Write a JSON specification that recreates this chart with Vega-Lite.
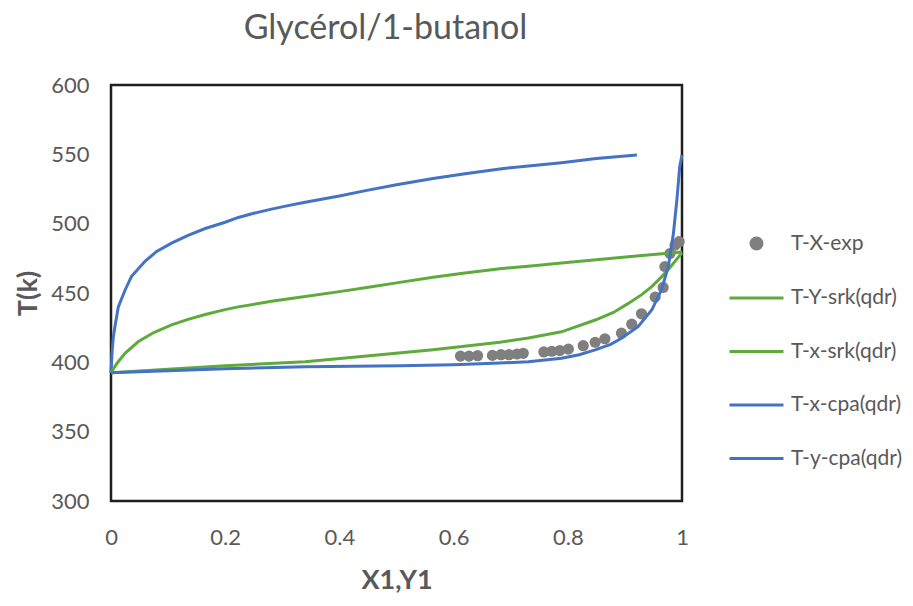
{
  "$schema": "https://vega.github.io/schema/vega-lite/v6.json",
  "width": 571,
  "height": 416,
  "autosize": {"type": "none"},
  "padding": {"left": 111, "top": 85, "right": 231, "bottom": 105},
  "background": "white",
  "title": {"text": "Glycérol/1-butanol", "font": "Lato", "fontSize": 34, "fontWeight": "normal", "color": "#595959", "anchor": "middle", "frame": "group", "baseline": "middle", "offset": 11, "dx": -11},
  "config": {
    "view": {"stroke": "#1f1f1f", "strokeWidth": 2.5},
    "axis": {"grid": false, "domain": false, "ticks": false, "tickSize": 0, "labelFont": "Lato", "labelFontSize": 22, "labelColor": "#595959", "titleFont": "Lato", "titleFontSize": 27, "titleFontWeight": "bold", "titleColor": "#595959"}
  },
  "datasets": {
    "curves": [
      {"series": "T-y-cpa(qdr)", "x": 0, "T": 392.5},
      {"series": "T-y-cpa(qdr)", "x": 0.002, "T": 408},
      {"series": "T-y-cpa(qdr)", "x": 0.004, "T": 418},
      {"series": "T-y-cpa(qdr)", "x": 0.007, "T": 426},
      {"series": "T-y-cpa(qdr)", "x": 0.0128, "T": 440},
      {"series": "T-y-cpa(qdr)", "x": 0.0245, "T": 452},
      {"series": "T-y-cpa(qdr)", "x": 0.036, "T": 462},
      {"series": "T-y-cpa(qdr)", "x": 0.06, "T": 473},
      {"series": "T-y-cpa(qdr)", "x": 0.08, "T": 480},
      {"series": "T-y-cpa(qdr)", "x": 0.106, "T": 486},
      {"series": "T-y-cpa(qdr)", "x": 0.135, "T": 491.5},
      {"series": "T-y-cpa(qdr)", "x": 0.165, "T": 496.5},
      {"series": "T-y-cpa(qdr)", "x": 0.2, "T": 501},
      {"series": "T-y-cpa(qdr)", "x": 0.223, "T": 504.5},
      {"series": "T-y-cpa(qdr)", "x": 0.25, "T": 507.5},
      {"series": "T-y-cpa(qdr)", "x": 0.281, "T": 510.5},
      {"series": "T-y-cpa(qdr)", "x": 0.31, "T": 513},
      {"series": "T-y-cpa(qdr)", "x": 0.34, "T": 515.5},
      {"series": "T-y-cpa(qdr)", "x": 0.4, "T": 520},
      {"series": "T-y-cpa(qdr)", "x": 0.448, "T": 524},
      {"series": "T-y-cpa(qdr)", "x": 0.5, "T": 528},
      {"series": "T-y-cpa(qdr)", "x": 0.564, "T": 532.5},
      {"series": "T-y-cpa(qdr)", "x": 0.62, "T": 536},
      {"series": "T-y-cpa(qdr)", "x": 0.681, "T": 539.5},
      {"series": "T-y-cpa(qdr)", "x": 0.74, "T": 542},
      {"series": "T-y-cpa(qdr)", "x": 0.789, "T": 544},
      {"series": "T-y-cpa(qdr)", "x": 0.85, "T": 547},
      {"series": "T-y-cpa(qdr)", "x": 0.921, "T": 549.5},

      {"series": "T-Y-srk(qdr)", "x": 0, "T": 392.5},
      {"series": "T-Y-srk(qdr)", "x": 0.01, "T": 399},
      {"series": "T-Y-srk(qdr)", "x": 0.0245, "T": 406.5},
      {"series": "T-Y-srk(qdr)", "x": 0.048, "T": 415},
      {"series": "T-Y-srk(qdr)", "x": 0.075, "T": 421.5},
      {"series": "T-Y-srk(qdr)", "x": 0.106, "T": 427},
      {"series": "T-Y-srk(qdr)", "x": 0.135, "T": 431},
      {"series": "T-Y-srk(qdr)", "x": 0.165, "T": 434.5},
      {"series": "T-Y-srk(qdr)", "x": 0.2, "T": 438},
      {"series": "T-Y-srk(qdr)", "x": 0.223, "T": 440},
      {"series": "T-Y-srk(qdr)", "x": 0.281, "T": 444},
      {"series": "T-Y-srk(qdr)", "x": 0.34, "T": 447.5},
      {"series": "T-Y-srk(qdr)", "x": 0.4, "T": 451},
      {"series": "T-Y-srk(qdr)", "x": 0.448, "T": 454},
      {"series": "T-Y-srk(qdr)", "x": 0.5, "T": 457.3},
      {"series": "T-Y-srk(qdr)", "x": 0.564, "T": 461.3},
      {"series": "T-Y-srk(qdr)", "x": 0.62, "T": 464.5},
      {"series": "T-Y-srk(qdr)", "x": 0.681, "T": 467.5},
      {"series": "T-Y-srk(qdr)", "x": 0.74, "T": 469.7},
      {"series": "T-Y-srk(qdr)", "x": 0.789, "T": 471.6},
      {"series": "T-Y-srk(qdr)", "x": 0.85, "T": 474},
      {"series": "T-Y-srk(qdr)", "x": 0.906, "T": 476.2},
      {"series": "T-Y-srk(qdr)", "x": 0.95, "T": 477.8},
      {"series": "T-Y-srk(qdr)", "x": 1.0, "T": 479.5},

      {"series": "T-x-srk(qdr)", "x": 0, "T": 392.5},
      {"series": "T-x-srk(qdr)", "x": 0.1, "T": 395},
      {"series": "T-x-srk(qdr)", "x": 0.2, "T": 397.5},
      {"series": "T-x-srk(qdr)", "x": 0.34, "T": 400.5},
      {"series": "T-x-srk(qdr)", "x": 0.448, "T": 404.5},
      {"series": "T-x-srk(qdr)", "x": 0.564, "T": 409},
      {"series": "T-x-srk(qdr)", "x": 0.681, "T": 414.5},
      {"series": "T-x-srk(qdr)", "x": 0.731, "T": 417.5},
      {"series": "T-x-srk(qdr)", "x": 0.789, "T": 422},
      {"series": "T-x-srk(qdr)", "x": 0.848, "T": 430.5},
      {"series": "T-x-srk(qdr)", "x": 0.88, "T": 436},
      {"series": "T-x-srk(qdr)", "x": 0.906, "T": 442.5},
      {"series": "T-x-srk(qdr)", "x": 0.93, "T": 449},
      {"series": "T-x-srk(qdr)", "x": 0.947, "T": 454.6},
      {"series": "T-x-srk(qdr)", "x": 0.965, "T": 462},
      {"series": "T-x-srk(qdr)", "x": 0.976, "T": 467},
      {"series": "T-x-srk(qdr)", "x": 0.99, "T": 474},
      {"series": "T-x-srk(qdr)", "x": 1.0, "T": 479},

      {"series": "T-x-cpa(qdr)", "x": 0, "T": 392.5},
      {"series": "T-x-cpa(qdr)", "x": 0.1, "T": 394},
      {"series": "T-x-cpa(qdr)", "x": 0.2, "T": 395.3},
      {"series": "T-x-cpa(qdr)", "x": 0.34, "T": 396.8},
      {"series": "T-x-cpa(qdr)", "x": 0.506, "T": 397.6},
      {"series": "T-x-cpa(qdr)", "x": 0.6, "T": 398.3},
      {"series": "T-x-cpa(qdr)", "x": 0.681, "T": 399.5},
      {"series": "T-x-cpa(qdr)", "x": 0.731, "T": 400.5},
      {"series": "T-x-cpa(qdr)", "x": 0.789, "T": 403},
      {"series": "T-x-cpa(qdr)", "x": 0.82, "T": 405.5},
      {"series": "T-x-cpa(qdr)", "x": 0.848, "T": 409},
      {"series": "T-x-cpa(qdr)", "x": 0.875, "T": 413},
      {"series": "T-x-cpa(qdr)", "x": 0.894, "T": 417.3},
      {"series": "T-x-cpa(qdr)", "x": 0.923, "T": 425.7},
      {"series": "T-x-cpa(qdr)", "x": 0.947, "T": 437.7},
      {"series": "T-x-cpa(qdr)", "x": 0.964, "T": 452.2},
      {"series": "T-x-cpa(qdr)", "x": 0.976, "T": 469},
      {"series": "T-x-cpa(qdr)", "x": 0.985, "T": 493},
      {"series": "T-x-cpa(qdr)", "x": 0.991, "T": 517},
      {"series": "T-x-cpa(qdr)", "x": 0.996, "T": 541},
      {"series": "T-x-cpa(qdr)", "x": 1.0, "T": 549.5}
    ],
    "exp": [
      {"series": "T-X-exp", "x": 0.612, "T": 404.5},
      {"series": "T-X-exp", "x": 0.627, "T": 404.5},
      {"series": "T-X-exp", "x": 0.642, "T": 404.8},
      {"series": "T-X-exp", "x": 0.668, "T": 405},
      {"series": "T-X-exp", "x": 0.683, "T": 405.5},
      {"series": "T-X-exp", "x": 0.697, "T": 405.5},
      {"series": "T-X-exp", "x": 0.711, "T": 406},
      {"series": "T-X-exp", "x": 0.722, "T": 406.5},
      {"series": "T-X-exp", "x": 0.758, "T": 407.5},
      {"series": "T-X-exp", "x": 0.772, "T": 408},
      {"series": "T-X-exp", "x": 0.786, "T": 408.5},
      {"series": "T-X-exp", "x": 0.801, "T": 409.5},
      {"series": "T-X-exp", "x": 0.827, "T": 412},
      {"series": "T-X-exp", "x": 0.848, "T": 414.5},
      {"series": "T-X-exp", "x": 0.865, "T": 417},
      {"series": "T-X-exp", "x": 0.894, "T": 421},
      {"series": "T-X-exp", "x": 0.912, "T": 427.5},
      {"series": "T-X-exp", "x": 0.929, "T": 435},
      {"series": "T-X-exp", "x": 0.953, "T": 447},
      {"series": "T-X-exp", "x": 0.967, "T": 454},
      {"series": "T-X-exp", "x": 0.97, "T": 469},
      {"series": "T-X-exp", "x": 0.979, "T": 478.5},
      {"series": "T-X-exp", "x": 0.988, "T": 484.5},
      {"series": "T-X-exp", "x": 0.995, "T": 487}
    ]
  },
  "encoding": {
    "x": {"field": "x", "type": "quantitative", "scale": {"domain": [0, 1], "nice": false, "zero": false},
      "axis": {"title": "X1,Y1", "values": [0, 0.2, 0.4, 0.6, 0.8, 1], "format": "~g", "labelFlush": false, "labelPadding": 36, "labelBaseline": "middle", "titleY": 79, "titleBaseline": "middle"}},
    "y": {"field": "T", "type": "quantitative", "scale": {"domain": [300, 600], "nice": false, "zero": false},
      "axis": {"title": "T(k)", "values": [300, 350, 400, 450, 500, 550, 600], "labelPadding": 22, "labelFlush": false, "titleX": -83, "titleY": 208, "titleAngle": -90, "titleBaseline": "middle", "titleAlign": "center"}},
    "color": {"field": "series", "type": "nominal",
      "scale": {"domain": ["T-X-exp", "T-Y-srk(qdr)", "T-x-srk(qdr)", "T-x-cpa(qdr)", "T-y-cpa(qdr)"], "range": ["#7F7F7F", "#5FAA3D", "#5FAA3D", "#4472C4", "#4472C4"]},
      "legend": {"orient": "none", "legendX": 617, "legendY": 130, "title": null, "labelFont": "Lato", "labelFontSize": 21, "labelColor": "#595959", "labelOffset": 6, "rowPadding": 14.5, "symbolType": "stroke", "symbolSize": 2916, "symbolStrokeWidth": 3,
        "encode": {"symbols": {"update": {
          "shape": {"signal": "datum.value === 'T-X-exp' ? 'circle' : 'stroke'"},
          "size": {"signal": "datum.value === 'T-X-exp' ? 120 : 2916"},
          "fill": {"signal": "datum.value === 'T-X-exp' ? '#7F7F7F' : 'transparent'"},
          "stroke": {"signal": "datum.value === 'T-X-exp' ? 'transparent' : (datum.value === 'T-x-cpa(qdr)' || datum.value === 'T-y-cpa(qdr)' ? '#4472C4' : '#5FAA3D')"},
          "strokeWidth": {"value": 3}
        }}}}
    }
  },
  "layer": [
    {"data": {"name": "exp"}, "mark": {"type": "point", "filled": true, "size": 125, "opacity": 1}},
    {"data": {"name": "curves"}, "mark": {"type": "line", "strokeWidth": 3}, "encoding": {"detail": {"field": "series"}}}
  ]
}
